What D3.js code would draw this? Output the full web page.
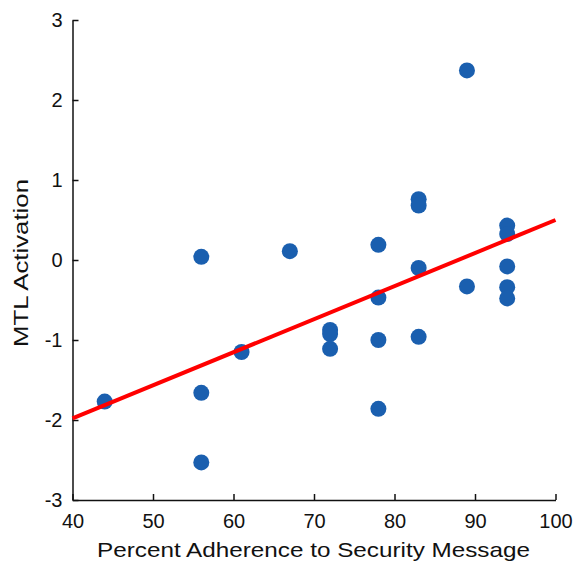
<!DOCTYPE html>
<html>
<head>
<meta charset="utf-8">
<script src="https://cdn.jsdelivr.net/npm/d3@7"></script>
<style>
  body { margin: 0; background: #fff; }
  svg { display: block; font-family: "Liberation Sans", Arial, Helvetica, sans-serif; }
  .axis path, .axis line { stroke: #111; stroke-width: 1.5; }
  .axis text { font-size: 20px; fill: #111; }
  .axis-title { font-size: 21px; fill: #111; }
</style>
</head>
<body>
<svg id="chart"></svg>
<script>
// adherence (%) and MTL activation for each participant
const adherence = [44, 56, 56, 56, 61, 67, 72, 72, 72, 78, 78, 78, 78, 83, 83, 83, 83, 89, 89, 94, 94, 94, 94, 94];
const activation = [-1.77, 0.04, -1.66, -2.53, -1.15, 0.11, -0.875, -0.925, -1.11, 0.19, -0.47, -1.0, -1.86,
                    0.76, 0.68, -0.1, -0.96, 2.37, -0.33, 0.43, 0.325, -0.08, -0.34, -0.48];

// regression line end points
const fitX = [40, 100];
const fitY = [-1.98, 0.5];

const xTicks = [40, 50, 60, 70, 80, 90, 100];
const yTicks = [-3, -2, -1, 0, 1, 2, 3];

const config = {
  width: 584,
  height: 563,
  margin: {top: 20, right: 28.5, bottom: 63, left: 72.5}
};

const innerW = config.width - config.margin.left - config.margin.right;
const innerH = config.height - config.margin.top - config.margin.bottom;

const svg = d3.select('#chart')
    .attr('width', config.width)
    .attr('height', config.height);

const chart = svg.append('g')
    .attr('transform', `translate(${config.margin.left},${config.margin.top})`);

const xScale = d3.scaleLinear().domain([40, 100]).range([0, innerW]);
const yScale = d3.scaleLinear().domain([-3, 3]).range([innerH, 0]);

// axes, ticks pointing inward; plain hyphen for negatives
const xAxis = d3.axisBottom(xScale)
    .tickValues(xTicks)
    .tickSizeInner(-6)
    .tickSizeOuter(0)
    .tickPadding(14)
    .tickFormat(d => String(d));

const yAxis = d3.axisLeft(yScale)
    .tickValues(yTicks)
    .tickSizeInner(-6)
    .tickSizeOuter(0)
    .tickPadding(10)
    .tickFormat(d => String(d));

chart.append('g')
    .attr('class', 'axis x-axis')
    .attr('transform', `translate(0,${innerH})`)
    .call(xAxis);

chart.append('g')
    .attr('class', 'axis y-axis')
    .call(yAxis);

svg.selectAll('.axis').attr('font-family', null).attr('font-size', null);

// data points
const points = adherence.map((d, i) => ({x: d, y: activation[i]}));

chart.append('g')
  .selectAll('circle')
  .data(points)
  .join('circle')
    .attr('cx', d => xScale(d.x))
    .attr('cy', d => yScale(d.y))
    .attr('r', 8)
    .attr('fill', '#1a5faf');

// fit line
const line = d3.line()
    .x(d => xScale(d[0]))
    .y(d => yScale(d[1]));

chart.append('path')
    .datum(fitX.map((d, i) => [d, fitY[i]]))
    .attr('d', line)
    .attr('fill', 'none')
    .attr('stroke', '#ff0000')
    .attr('stroke-width', 4);

// axis titles
svg.append('text')
    .attr('class', 'axis-title')
    .attr('x', 313.5)
    .attr('y', 557)
    .attr('text-anchor', 'middle')
    .attr('textLength', 433)
    .attr('lengthAdjust', 'spacingAndGlyphs')
    .text('Percent Adherence to Security Message');

svg.append('text')
    .attr('class', 'axis-title')
    .attr('transform', 'translate(28,263) rotate(-90)')
    .attr('text-anchor', 'middle')
    .attr('textLength', 168)
    .attr('lengthAdjust', 'spacingAndGlyphs')
    .text('MTL Activation');
</script>
</body>
</html>
